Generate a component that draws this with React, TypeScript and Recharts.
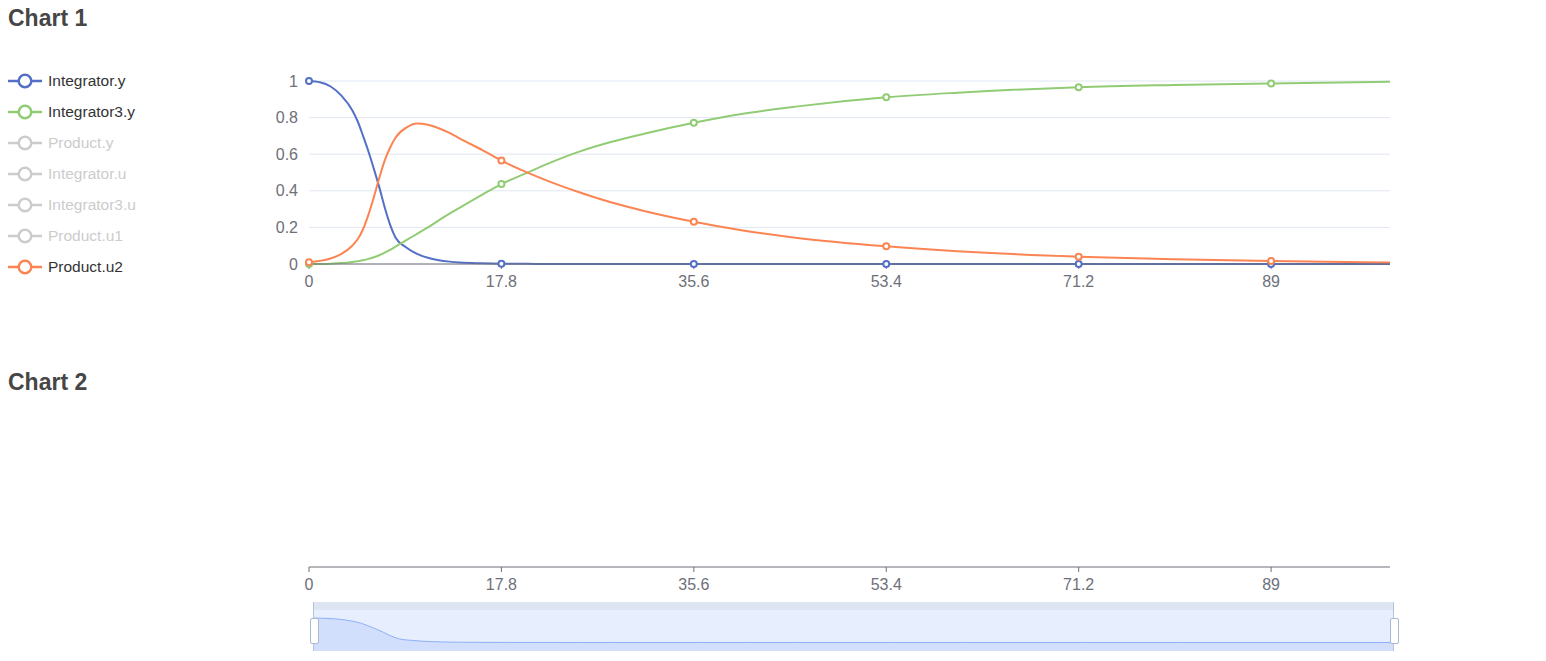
import React from "react";
import {
  LineChart,
  Line,
  AreaChart,
  Area,
  XAxis,
  YAxis,
  CartesianGrid,
  Legend,
} from "recharts";

// sample times (x axis) and the values
const time = [
  0, 1, 2, 3, 4, 4.5, 5, 5.5, 6, 6.5, 7, 7.5, 8, 9, 10, 11, 12, 13, 14, 16,
  17.8, 20, 22.5, 25, 28, 31, 35.6, 40, 45, 53.4, 60, 71.2, 80, 89, 100,
];
const integratorY = [
  1, 0.993, 0.97, 0.92, 0.84, 0.78, 0.7, 0.615, 0.52, 0.42, 0.31, 0.215, 0.145,
  0.09, 0.055, 0.034, 0.021, 0.013, 0.008, 0.004, 0.002, 0.001, 0, 0, 0, 0, 0,
  0, 0, 0, 0, 0, 0, 0, 0,
];
const integrator3Y = [
  0, 0.0005, 0.002, 0.005, 0.011, 0.015, 0.02, 0.028, 0.037, 0.048, 0.062,
  0.077, 0.095, 0.13, 0.165, 0.2, 0.238, 0.275, 0.31, 0.378, 0.437, 0.494,
  0.558, 0.614, 0.668, 0.712, 0.772, 0.82, 0.86, 0.911, 0.936, 0.966, 0.978,
  0.987, 0.996,
];
const productU2 = [
  0.01, 0.017, 0.03, 0.055, 0.1, 0.135, 0.19, 0.27, 0.365, 0.47, 0.565, 0.635,
  0.69, 0.745, 0.768, 0.761, 0.742, 0.716, 0.684, 0.624, 0.565, 0.505, 0.445,
  0.392, 0.336, 0.29, 0.231, 0.185, 0.144, 0.097, 0.07, 0.04, 0.026, 0.016,
  0.008,
];

const xTicks = [0, 17.8, 35.6, 53.4, 71.2, 89];
const yTicks = [0, 0.2, 0.4, 0.6, 0.8, 1];

const seriesNames = [
  "Integrator.y",
  "Integrator3.y",
  "Product.y",
  "Integrator.u",
  "Integrator3.u",
  "Product.u1",
  "Product.u2",
];
const seriesKeys = [
  "integratorY",
  "integrator3Y",
  "productY",
  "integratorU",
  "integrator3U",
  "productU1",
  "productU2",
];
const seriesColors = [
  "#5470c6",
  "#91cc75",
  "#fac858",
  "#ee6666",
  "#73c0de",
  "#3ba272",
  "#fc8452",
];
const hiddenSeries = ["Product.y", "Integrator.u", "Integrator3.u", "Product.u1"];

const data = time.map((t, i) => ({
  time: t,
  integratorY: integratorY[i],
  integrator3Y: integrator3Y[i],
  productU2: productU2[i],
}));

const axisColor = "#6e7079";
const font = '"Liberation Sans", Arial, Helvetica, sans-serif';

// only show symbols where the axis has a label, like the original
const makeDot = (color: string) => (props: any) => {
  const { cx, cy, payload, index } = props;
  if (!xTicks.includes(payload.time)) return <g key={`d-${index}`} />;
  return (
    <circle
      key={`d-${index}`}
      cx={cx}
      cy={cy}
      r={3}
      fill="#fff"
      stroke={color}
      strokeWidth={2}
    />
  );
};

const LegendList = () => (
  <div style={{ fontFamily: font }}>
    {seriesNames.map((name, i) => {
      const off = hiddenSeries.includes(name);
      const c = off ? "#ccc" : seriesColors[i];
      return (
        <div
          key={name}
          style={{ display: "flex", alignItems: "center", height: 31 }}
        >
          <svg width={34} height={18} style={{ marginRight: 6 }}>
            <line x1={0} y1={9} x2={34} y2={9} stroke={c} strokeWidth={2.5} />
            <circle cx={17} cy={9} r={6.3} fill="#fff" stroke={c} strokeWidth={2.5} />
          </svg>
          <span style={{ fontSize: 15.5, color: off ? "#ccc" : "#333" }}>
            {name}
          </span>
        </div>
      );
    })}
  </div>
);

const titleStyle: React.CSSProperties = {
  position: "absolute",
  left: 0,
  fontSize: 23,
  lineHeight: "23px",
  fontWeight: "bold",
  color: "#464646",
};

const tickStyle = { fill: axisColor, fontSize: 16 };

export default function App() {
  return (
    <div
      style={{ position: "relative", width: 1530, height: 645, fontFamily: font }}
    >
      <div style={{ ...titleStyle, top: -1.5 }}>Chart 1</div>
      <div style={{ position: "absolute", left: 0, top: 0 }}>
        <LineChart
          width={1530}
          height={300}
          data={data}
          margin={{ top: 73, right: 148, bottom: 14, left: 261 }}
        >
          <CartesianGrid vertical={false} stroke="#e0e6f1" />
          <XAxis
            dataKey="time"
            type="number"
            domain={[0, 100]}
            ticks={xTicks}
            interval={0}
            stroke={axisColor}
            tick={tickStyle}
            tickSize={5}
            tickMargin={7}
            height={30}
          />
          <YAxis
            domain={[0, 1]}
            ticks={yTicks}
            axisLine={false}
            tickLine={false}
            tick={tickStyle}
            tickMargin={5}
            width={40}
          />
          <Legend
            content={<LegendList />}
            layout="horizontal"
            align="center"
            verticalAlign="middle"
            wrapperStyle={{ left: 0, top: 57.5, width: 200 }}
          />
          {seriesKeys.map((key, i) => (
            <Line
              key={key}
              type="monotone"
              dataKey={key}
              name={seriesNames[i]}
              stroke={seriesColors[i]}
              strokeWidth={2}
              hide={hiddenSeries.includes(seriesNames[i])}
              dot={makeDot(seriesColors[i])}
              activeDot={false}
              isAnimationActive={false}
            />
          ))}
        </LineChart>
      </div>

      <div style={{ ...titleStyle, top: 362.5 }}>Chart 2</div>
      <div style={{ position: "absolute", left: 0, top: 400 }}>
        <LineChart
          width={1530}
          height={200}
          data={data}
          margin={{ top: 10, right: 148, bottom: 11, left: 301 }}
        >
          <XAxis
            dataKey="time"
            type="number"
            domain={[0, 100]}
            ticks={xTicks}
            interval={0}
            stroke={axisColor}
            tick={tickStyle}
            tickSize={5}
            tickMargin={7}
            height={30}
          />
          <YAxis hide domain={[0, 1]} />
        </LineChart>
      </div>

      {/* data zoom slider */}
      <div style={{ position: "absolute", left: 305, top: 594, width: 1081 }}>
        <div
          style={{
            height: 8,
            background: "rgba(210,219,238,0.75)",
            borderRadius: "2px 2px 0 0",
          }}
        />
        <div
          style={{
            position: "relative",
            height: 41,
            background: "rgba(135,175,255,0.2)",
          }}
        >
          <AreaChart
            width={1081}
            height={41}
            data={data}
            margin={{ top: 0, right: 0, bottom: 0, left: 0 }}
          >
            <XAxis hide dataKey="time" type="number" domain={[0, 100]} />
            <YAxis hide domain={[-0.35, 1.33]} />
            <Area
              type="monotone"
              dataKey="integratorY"
              stroke="#8fb0f7"
              strokeWidth={1}
              fill="#8fb0f7"
              fillOpacity={0.25}
              baseValue="dataMin"
              dot={false}
              activeDot={false}
              isAnimationActive={false}
            />
          </AreaChart>
          {[0, 1080].map((x) => (
            <React.Fragment key={x}>
              <div
                style={{
                  position: "absolute",
                  left: x,
                  top: -8,
                  width: 1,
                  height: 49,
                  background: "#b5c2dc",
                }}
              />
              <div
                style={{
                  position: "absolute",
                  left: x - 3.5,
                  top: 8,
                  width: 7,
                  height: 24,
                  background: "#fff",
                  border: "1px solid #acb8d1",
                  borderRadius: 2,
                }}
              />
            </React.Fragment>
          ))}
        </div>
      </div>
    </div>
  );
}
